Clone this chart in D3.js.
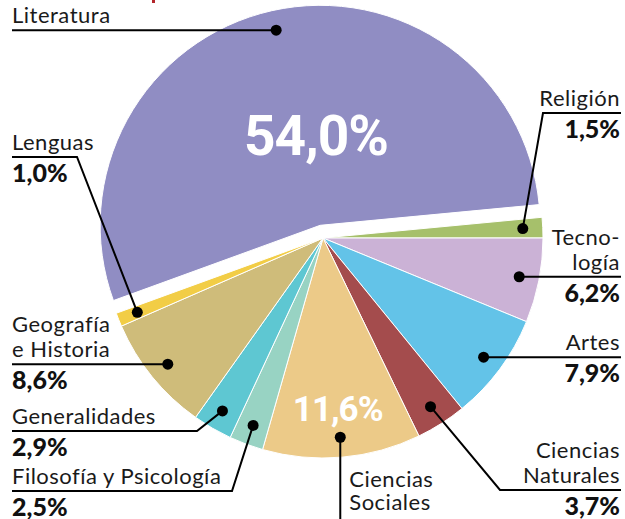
<!DOCTYPE html>
<html>
<head>
<meta charset="utf-8">
<script src="https://cdn.jsdelivr.net/npm/d3@7"></script>
<style>
  body { margin: 0; background: #fff; }
  .name { font-family: "Lato", sans-serif; font-size: 22px; letter-spacing: 0.5px; fill: #1a1a1a; }
  .pct { font-family: "Lato", sans-serif; font-weight: 900; font-size: 25px; fill: #111; }
  .inner { font-family: "Roboto", sans-serif; font-weight: 700; fill: #fff; }
</style>
</head>
<body>
<div id="chart"></div>
<script>
var svgWidth = 625;
var svgHeight = 519;

// data
var categories = ["Religión", "Tecnología", "Artes", "Ciencias Naturales", "Ciencias Sociales",
  "Filosofía y Psicología", "Generalidades", "Geografía e Historia", "Lenguas", "Literatura"];
var shares = [1.5, 6.2, 7.9, 3.7, 11.6, 2.5, 2.9, 8.6, 1.0, 54.0];
var shareLabels = ["1,5%", "6,2%", "7,9%", "3,7%", "11,6%", "2,5%", "2,9%", "8,6%", "1,0%", "54,0%"];
var colors = ["#a6c06b", "#cbb2d6", "#63c3e8", "#a44c4d", "#ecca88", "#98d3c3", "#5ec7d2", "#cfbc7a", "#f2cd46", "#908dc3"];

var radius = 220;
var cx = 323, cy = 238;
var explode = 13;

var svg = d3.select("#chart")
  .append("svg")
  .attr("width", svgWidth)
  .attr("height", svgHeight);

// bit of the red title above the crop
svg.append("rect")
  .attr("x", 152).attr("y", 0)
  .attr("width", 3).attr("height", 3)
  .attr("fill", "#b3262b");

var data = categories.map(function (c, i) {
  return { name: c, value: shares[i], label: shareLabels[i], color: colors[i] };
});

var total = d3.sum(shares);
var start = Math.PI / 2 - (shares[0] / total) * 2 * Math.PI;

var pie = d3.pie()
  .sort(null)
  .value(d => d.value)
  .startAngle(start)
  .endAngle(start + 2 * Math.PI);

var arcs = pie(data);

var arc = d3.arc().innerRadius(0).outerRadius(radius);
var dotArc = d3.arc().innerRadius(200).outerRadius(200);

function offset(d) {
  if (d.data.name !== "Literatura") return [0, 0];
  var a = (d.startAngle + d.endAngle) / 2;
  return [Math.sin(a) * explode, -Math.cos(a) * explode];
}

var chartGroup = svg.append("g")
  .attr("transform", "translate(" + cx + "," + cy + ")");

chartGroup.selectAll("path.slice")
  .data(arcs)
  .enter()
  .append("path")
  .attr("class", "slice")
  .attr("transform", d => "translate(" + offset(d) + ")")
  .attr("d", arc)
  .attr("fill", d => d.data.color)
  .attr("stroke", "#fff")
  .attr("stroke-width", 1);

// dot position in page coords
function dotPos(d) {
  var c = dotArc.centroid(d);
  var o = offset(d);
  return [cx + c[0] + o[0], cy + c[1] + o[1]];
}

// label layout: side, text lines, where the underline sits
var layout = {
  "Literatura": { side: "left", lines: ["Literatura"], pct: false },
  "Lenguas": { side: "left", lines: ["Lenguas"], lineY: 157, elbowX: 77 },
  "Religión": { side: "right", lines: ["Religión"], lineY: 113, elbowX: 543 },
  "Tecnología": { side: "right", lines: ["Tecno-", "logía"] },
  "Artes": { side: "right", lines: ["Artes"] },
  "Ciencias Naturales": { side: "right", lines: ["Ciencias", "Naturales"], lineY: 490, elbowX: 500 },
  "Ciencias Sociales": { side: "down", lines: ["Ciencias", "Sociales"], pct: false },
  "Filosofía y Psicología": { side: "left", lines: ["Filosofía y Psicología"], lineY: 491, elbowX: 232 },
  "Generalidades": { side: "left", lines: ["Generalidades"], lineY: 431, elbowX: 197 },
  "Geografía e Historia": { side: "left", lines: ["Geografía", "e Historia"] }
};

var leftX = 12, rightX = 621, lineGap = 25;
var labelGroup = svg.append("g");

arcs.forEach(function (d) {
  var L = layout[d.data.name];
  var p = dotPos(d);
  var pts;
  if (L.side === "down") {
    pts = [p, [p[0], svgHeight]];
    L.lines.forEach(function (t, i) {
      labelGroup.append("text").attr("class", "name")
        .attr("x", p[0] + 9).attr("y", 487 + i * 23).text(t);
    });
  } else {
    var y = L.lineY !== undefined ? L.lineY : p[1];
    var endX = L.side === "left" ? leftX : rightX;
    if (L.elbowX !== undefined) pts = [p, [L.elbowX, y], [endX, y]];
    else pts = [p, [endX, y]];
    var n = L.lines.length;
    L.lines.forEach(function (t, i) {
      labelGroup.append("text").attr("class", "name")
        .attr("x", endX - (L.side === "right" ? 1 : 0))
        .attr("y", y - 7 - (n - 1 - i) * lineGap)
        .attr("text-anchor", L.side === "right" ? "end" : "start")
        .text(t);
    });
    if (L.pct !== false) {
      labelGroup.append("text").attr("class", "pct")
        .attr("x", endX - (L.side === "right" ? 1 : 0))
        .attr("y", y + 25)
        .attr("text-anchor", L.side === "right" ? "end" : "start")
        .text(d.data.label);
    }
  }
  labelGroup.append("path")
    .attr("d", d3.line()(pts))
    .attr("fill", "none")
    .attr("stroke", "#000")
    .attr("stroke-width", 2);
  labelGroup.append("circle")
    .attr("cx", p[0]).attr("cy", p[1])
    .attr("r", 5.5)
    .attr("fill", "#000");
});

// big values inside the pie
var lit = arcs.find(d => d.data.name === "Literatura");
var soc = arcs.find(d => d.data.name === "Ciencias Sociales");
var socC = d3.arc().innerRadius(0).outerRadius(radius * 1.55).centroid(soc);

// the 54% sits almost straight above the centre
svg.append("text").attr("class", "inner")
  .attr("x", cx - 7)
  .attr("y", cy - 83)
  .attr("text-anchor", "middle")
  .style("font-size", "55px")
  .style("letter-spacing", "-1px")
  .text(lit.data.label);

svg.append("text").attr("class", "inner")
  .attr("x", cx + socC[0])
  .attr("y", cy + socC[1] + 13)
  .attr("text-anchor", "middle")
  .style("font-size", "35px")
  .style("letter-spacing", "-1px")
  .text(soc.data.label);
</script>
</body>
</html>
